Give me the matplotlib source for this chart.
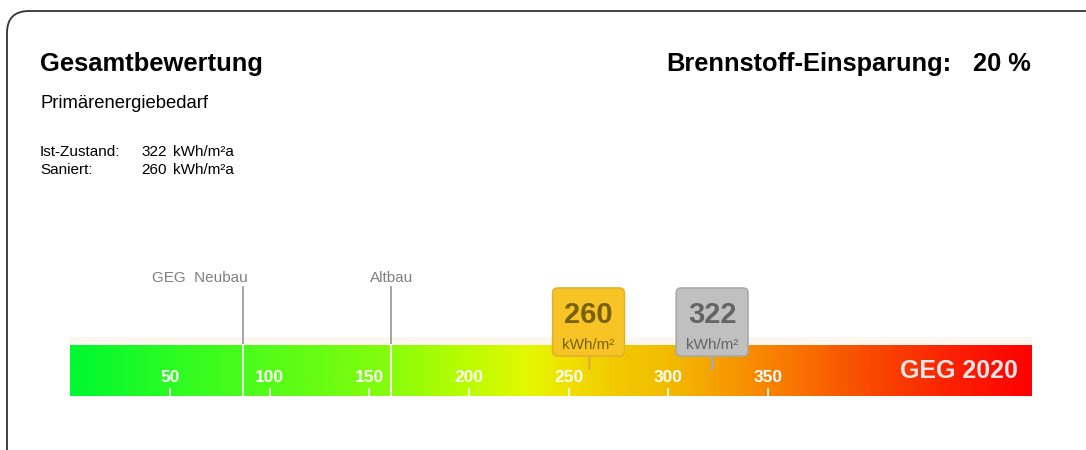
import matplotlib
matplotlib.use("Agg")
import matplotlib.pyplot as plt
from matplotlib.colors import LinearSegmentedColormap
from matplotlib.patches import FancyBboxPatch, Rectangle
import numpy as np

plt.rcParams['font.family'] = ['Liberation Sans', 'DejaVu Sans']

# values
ist_value = 322
saniert_value = 260
einsparung = 20
scale_max = 482.5
tick_values = [50, 100, 150, 200, 250, 300, 350]
ref_labels = ["GEG  Neubau", "Altbau"]
ref_values = [86.5, 161]
marker_values = [saniert_value, ist_value]
marker_fill = ["#f8c425", "#c0c0c0"]
marker_edge = ["#e2b030", "#a9a9a9"]
marker_text = ["#76600a", "#646464"]

# colour stops of the scale (value, colour)
grad_pos = [0, 50, 100, 160, 200, 230, 250, 275, 300, 350, 400, 440, 482.5]
grad_col = ["#00f832", "#2cfc22", "#55fc18", "#86fc0c", "#bcfc00", "#e4f800",
            "#f0e000", "#f2c800", "#f2bc00", "#f88400", "#f84c00", "#fb2400", "#ff0000"]

W, H = 1086, 450
fig = plt.figure(figsize=(W / 100, H / 100), dpi=100)


def ftext(x, y, s, **kw):
    # position in pixels from top-left
    fig.text(x / W, 1 - y / H, s, **kw)


# rounded frame, cut off at right and bottom
frame = FancyBboxPatch((7, -30), 1110, H - 11 + 30, boxstyle="round,pad=0,rounding_size=22",
                       transform=None, fill=False, edgecolor="#333333", linewidth=1.3)
fig.patches.append(frame)

ftext(40, 71, "Gesamtbewertung", fontsize=18.4, fontweight="bold", va="baseline")
ftext(952, 71, "Brennstoff-Einsparung:", fontsize=18.3, fontweight="bold", va="baseline", ha="right")
ftext(1031, 71, f"{einsparung} %", fontsize=18.3, fontweight="bold", va="baseline", ha="right")
ftext(40, 108, "Primärenergiebedarf", fontsize=13.3, va="baseline")
ftext(40, 156, "Ist-Zustand:", fontsize=11, va="baseline")
ftext(141, 156, f"{ist_value}", fontsize=11, va="baseline")
ftext(173, 156, "kWh/m²a", fontsize=11, va="baseline")
ftext(40, 174, "Saniert:", fontsize=11, va="baseline")
ftext(141, 174, f"{saniert_value}", fontsize=11, va="baseline")
ftext(173, 174, "kWh/m²a", fontsize=11, va="baseline")

# scale axes: about 2 px per unit in both directions
ax = fig.add_axes([70.3 / W, 54 / H, 961.7 / W, 130 / H])
ax.set_xlim(0, scale_max)
ax.set_ylim(0, 65)
ax.axis("off")

bar_h = 25.5
cmap = LinearSegmentedColormap.from_list(
    "geg", list(zip(np.array(grad_pos) / scale_max, grad_col)))
ax.imshow(np.linspace(0, 1, 600).reshape(1, -1), cmap=cmap, aspect="auto",
          extent=(0, scale_max, 0, bar_h), zorder=1)
ax.add_patch(Rectangle((0, bar_h), scale_max, 4, color="#fcf7f1", lw=0, zorder=0))

for v in tick_values:
    ax.plot([v, v], [0, 3.5], color="white", lw=1.2, zorder=3)
    ax.text(v, 9.5, str(v), color="white", fontsize=12.5, fontweight="bold",
            ha="center", va="center", zorder=4)

ax.text(475.5, 12.5, "GEG 2020", color="#e6e6e6", fontsize=18, fontweight="bold",
        ha="right", va="center", zorder=4)

for lab, v in zip(ref_labels, ref_values):
    ax.plot([v, v], [bar_h, 54.5], color="#8c8c8c", lw=1.1, zorder=3, clip_on=False)
    ax.plot([v, v], [0, bar_h], color="white", lw=1.3, zorder=3)
    if lab == "Altbau":
        ax.text(v, 57, lab, color="#7f7f7f", fontsize=11, ha="center", va="baseline")
    else:
        ax.text(v + 2.5, 57, lab, color="#7f7f7f", fontsize=11, ha="right", va="baseline")

for v, fc, ec, tc in zip(marker_values, marker_fill, marker_edge, marker_text):
    ax.plot([v, v], [14, 20], color=ec, lw=2, zorder=5)
    box = FancyBboxPatch((v - 18, 20), 36, 34, boxstyle="round,pad=0,rounding_size=2.5",
                         facecolor=fc, edgecolor=ec, lw=1.2, zorder=6, clip_on=False)
    ax.add_patch(box)
    ax.text(v, 40.5, str(v), color=tc, fontsize=21, fontweight="bold",
            ha="center", va="center", zorder=7)
    ax.text(v, 25.5, "kWh/m²", color=tc, fontsize=11, ha="center", va="center", zorder=7)

fig.savefig("out.png", dpi=100)
